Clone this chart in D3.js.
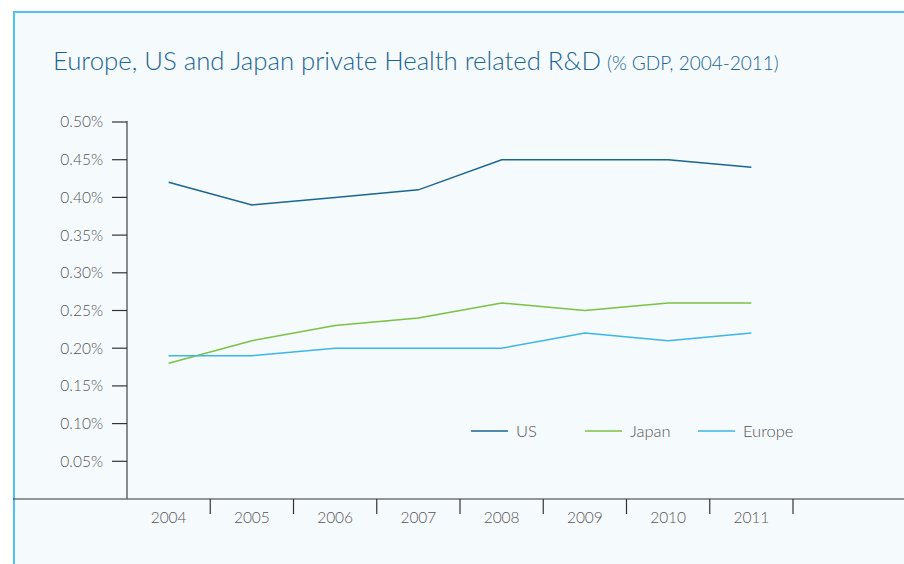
<!DOCTYPE html>
<html><head><meta charset="utf-8">
<script src="https://cdn.jsdelivr.net/npm/d3@7/dist/d3.min.js"></script>
<style>
html,body{margin:0;padding:0;background:#fff;}
svg{display:block;font-family:Lato,"Open Sans",sans-serif;}
</style></head>
<body>
<svg id="c" width="904" height="564"></svg>
<script>
const years = ["2004","2005","2006","2007","2008","2009","2010","2011"];
const usValues = [0.42,0.39,0.40,0.41,0.45,0.45,0.45,0.44];
const japanValues = [0.18,0.21,0.23,0.24,0.26,0.25,0.26,0.26];
const europeValues = [0.19,0.19,0.20,0.20,0.20,0.22,0.21,0.22];
const seriesNames = ["US","Japan","Europe"];
const seriesColors = ["#1b6592","#7cc142","#3db5e6"];
const yTicks = [0.05,0.10,0.15,0.20,0.25,0.30,0.35,0.40,0.45,0.50];
const titleMain = "Europe, US and Japan private Health related R&D";
const titleSub = " (% GDP, 2004-2011)";

const svg = d3.select("#c");
// panel
svg.append("rect").attr("x",13).attr("y",11).attr("width",891).attr("height",553).attr("fill","#f5fafd");
svg.append("line").attr("x1",13).attr("x2",904).attr("y1",12).attr("y2",12).attr("stroke","#4fc3ee").attr("stroke-width",2);
svg.append("line").attr("x1",14).attr("x2",14).attr("y1",11).attr("y2",564).attr("stroke","#4fc3ee").attr("stroke-width",2);

// title
const t = svg.append("text").attr("x",53).attr("y",70).attr("fill","#1b6592").attr("font-weight",300);
t.append("tspan").attr("font-size",25.5).attr("textLength",548).attr("lengthAdjust","spacingAndGlyphs").text(titleMain);
t.append("tspan").attr("font-size",19).attr("dx",6).text(titleSub.trim());

const x = d3.scaleBand().domain(years).range([127,793]).paddingInner(0).paddingOuter(0);
const y = d3.scaleLinear().domain([0,0.5]).range([499,122]);

// x axis line
svg.append("line").attr("x1",13).attr("x2",904).attr("y1",y(0)).attr("y2",y(0)).attr("stroke","#333").attr("stroke-width",1.2);
// x ticks at band boundaries
const g = svg.append("g");
years.forEach(yr=>{
  const bx = x(yr)+x.bandwidth();
  g.append("line").attr("x1",bx).attr("x2",bx).attr("y1",y(0)).attr("y2",y(0)+15).attr("stroke","#333").attr("stroke-width",1.2);
  g.append("text").attr("x",x(yr)+x.bandwidth()/2).attr("y",y(0)+24).attr("text-anchor","middle")
   .attr("font-size",15.5).attr("font-weight",300).attr("fill","#555").text(yr);
});

// y axis
svg.append("line").attr("x1",127).attr("x2",127).attr("y1",y(0.5)-1).attr("y2",y(0)).attr("stroke","#666").attr("stroke-width",1.5);
yTicks.forEach(v=>{
  svg.append("line").attr("x1",112).attr("x2",127).attr("y1",y(v)).attr("y2",y(v)).attr("stroke","#333").attr("stroke-width",1.2);
  svg.append("text").attr("x",103).attr("y",y(v)).attr("dy","0.35em").attr("text-anchor","end")
   .attr("font-size",15.5).attr("font-weight",300).attr("fill","#555").text(d3.format(".2f")(v)+"%");
});

const series = [usValues, japanValues, europeValues];
const line = d3.line().x((d,i)=>x(years[i])+x.bandwidth()/2).y(d=>y(d));
series.forEach((s,i)=>{
  svg.append("path").attr("d",line(s)).attr("fill","none").attr("stroke",seriesColors[i]).attr("stroke-width",1.5);
});

// legend
const lx = [471,585,698];
seriesNames.forEach((n,i)=>{
  svg.append("line").attr("x1",lx[i]).attr("x2",lx[i]+37).attr("y1",431).attr("y2",431).attr("stroke",seriesColors[i]).attr("stroke-width",1.5);
  svg.append("text").attr("x",lx[i]+45).attr("y",431).attr("dy","0.35em").attr("font-size",16.5).attr("font-weight",300).attr("fill","#555").text(n);
});
</script>
</body></html>
